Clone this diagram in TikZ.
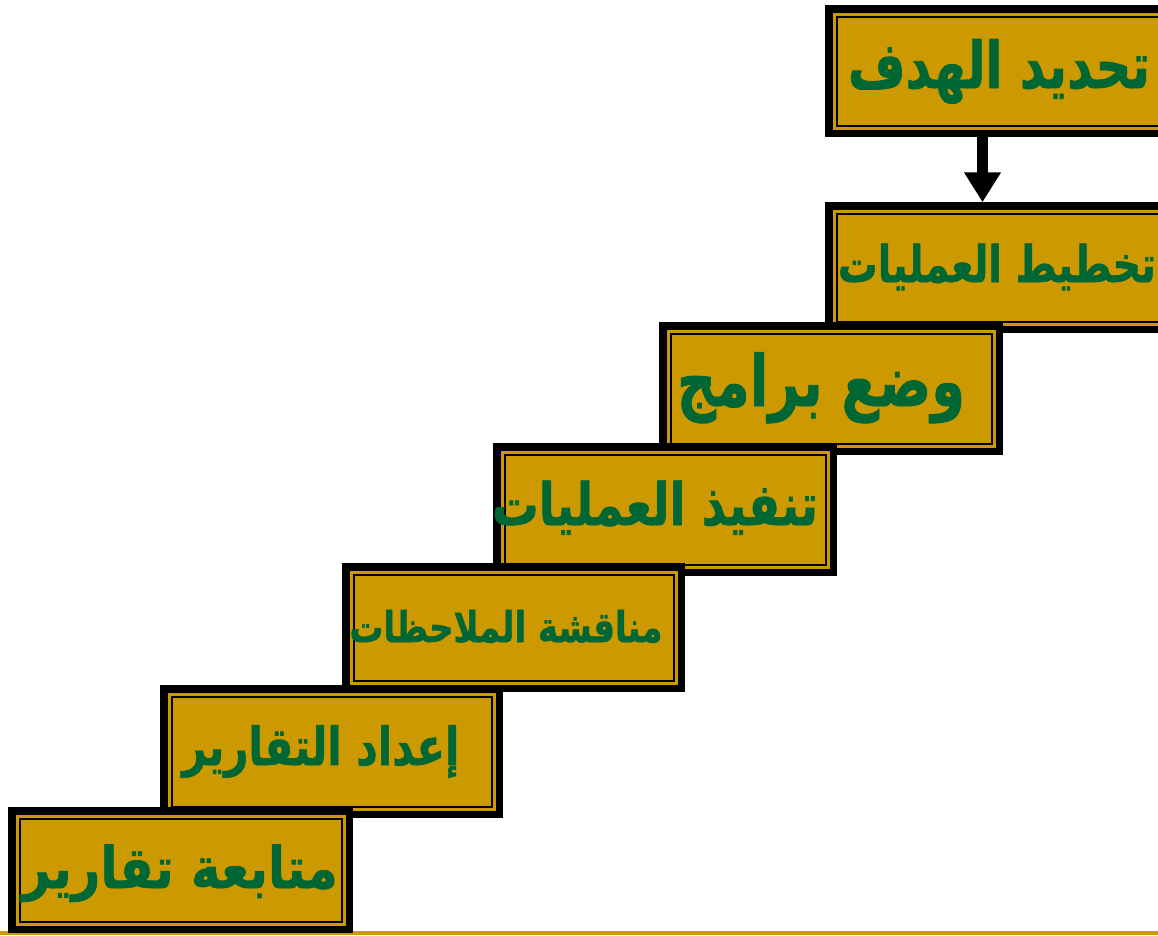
\documentclass[tikz,border=0pt]{standalone}
\usepackage{fontspec}
\usetikzlibrary{arrows.meta}
\newfontfamily\arabicfont[Script=Arabic,FakeBold=1.2]{DejaVu Sans}
\TeXXeTstate=1
\definecolor{boxgold}{RGB}{204,153,0}
\definecolor{txtgreen}{RGB}{0,102,51}
\tikzset{
  stepbox/.style={rectangle, draw=black, line width=7.5pt, fill=boxgold,
    inner sep=0pt, outer sep=0pt,
    path picture={\draw[black, line width=2pt]
      ([xshift=7.75pt,yshift=-7.75pt]path picture bounding box.north west) rectangle
      ([xshift=-7.75pt,yshift=7.75pt]path picture bounding box.south east);}},
  steptext/.style={text=txtgreen, inner sep=0pt, outer sep=0pt, anchor=base,
    font=\arabicfont\bfseries},
  flowarrow/.style={draw=black, line width=11pt, shorten >=3.5pt,
    -{Triangle[width=35pt,length=30pt]}},
  baseline/.style={draw=boxgold, line width=3.5pt},
}
\newcommand{\fitw}[3]{\resizebox{#1pt}{!}{\scalebox{1}[#2]{#3}}}
\begin{document}
\begin{tikzpicture}[x=1pt,y=-1pt]
\useasboundingbox (0,0) rectangle (1158,935);
\clip (0,0) rectangle (1158,935);
\coordinate (gl) at (0,933);
\coordinate (gr) at (1158,933);
\draw[baseline] (gl) -- (gr);

\node[stepbox, minimum width=337.5pt, minimum height=124.5pt] (b1) at (997.5,71) {};
\node[steptext] (t1) at (999,88) {\fitw{302}{1.3}{\beginR تحديد الهدف\endR}};

\node[stepbox, minimum width=337.5pt, minimum height=123.5pt] (b2) at (997.5,267.5) {};
\node[steptext] (t2) at (997,282) {\fitw{318}{1.28}{\beginR تخطيط العمليات\endR}};

\draw[flowarrow] ([xshift=-15pt]b1.south) -- ([xshift=-15pt]b2.north);

\node[stepbox, minimum width=336.5pt, minimum height=125.5pt] (b3) at (831,388.5) {};
\node[steptext] (t3) at (821,406) {\fitw{288}{1.3}{\beginR وضع برامج\endR}};

\node[stepbox, minimum width=336.5pt, minimum height=125.5pt] (b4) at (665,509.5) {};
\node[steptext] (t4) at (655,525) {\fitw{326}{1.25}{\beginR تنفيذ العمليات\endR}};

\node[stepbox, minimum width=335.5pt, minimum height=121.5pt] (b5) at (513.5,627.5) {};
\node[steptext] (t5) at (506,642) {\fitw{313}{1.25}{\beginR مناقشة الملاحظات\endR}};

\node[stepbox, minimum width=335.5pt, minimum height=125.5pt] (b6) at (331.5,751.5) {};
\node[steptext] (t6) at (321,765) {\fitw{277}{1.25}{\beginR إعداد التقارير\endR}};

\node[stepbox, minimum width=337.5pt, minimum height=118.5pt] (b7) at (180.5,870) {};
\node[steptext] (t7) at (180,888) {\fitw{316}{1.15}{\beginR متابعة تقارير\endR}};
\end{tikzpicture}
\end{document}
